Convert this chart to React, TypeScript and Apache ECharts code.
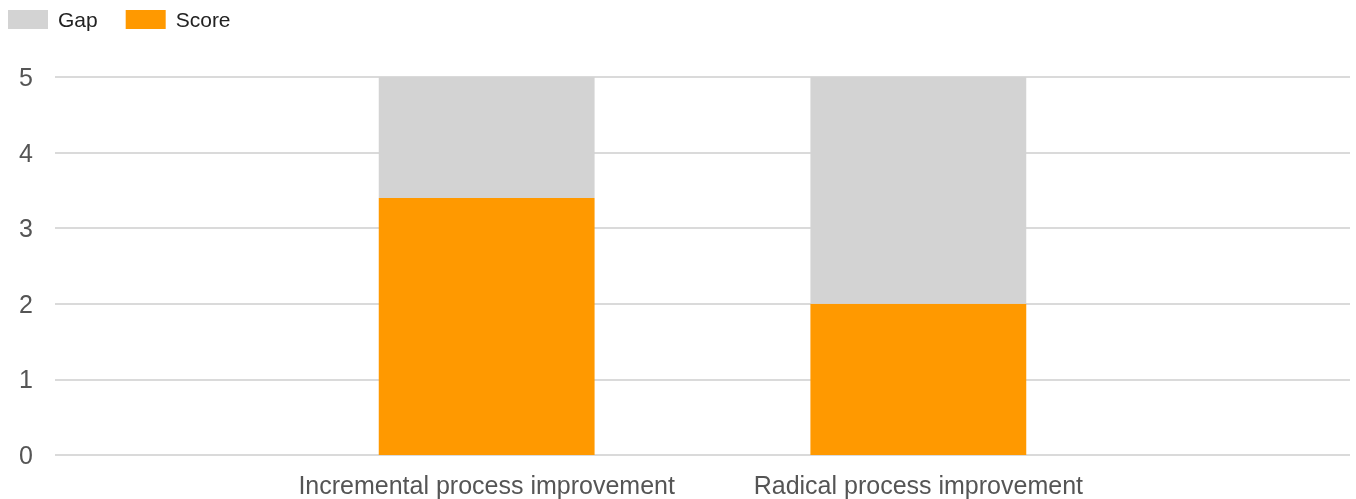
import React, { useEffect, useRef } from "react";
import * as echarts from "echarts";

const categories = ["", "Incremental process improvement", "Radical process improvement", ""];
const scoreValues: (number | null)[] = [null, 3.4, 2, null];
const gapValues: (number | null)[] = [null, 1.6, 3, null];
const yTicks = [0, 1, 2, 3, 4, 5];

export default function App() {
  const ref = useRef<HTMLDivElement>(null);
  useEffect(() => {
    if (!ref.current) return;
    const chart = echarts.init(ref.current, undefined, { renderer: "svg" });
    chart.setOption({
      animation: false,
      textStyle: { fontFamily: "Liberation Sans, Arial, sans-serif" },
      legend: {
        left: 8,
        top: 9,
        padding: 0,
        itemWidth: 40,
        itemHeight: 19,
        itemGap: 28,
        icon: "rect",
        data: ["Gap", "Score"],
        textStyle: { fontSize: 21, color: "#222", padding: [0, 0, 0, 5] },
      },
      grid: { left: 55, right: 6, top: 77, bottom: 44, containLabel: false },
      xAxis: {
        type: "category",
        data: categories,
        boundaryGap: false,
        axisLine: { show: false },
        axisTick: { show: false },
        axisLabel: { fontSize: 25, color: "#555", margin: 17, interval: 0 },
        splitLine: { show: false },
      },
      yAxis: {
        type: "value",
        min: yTicks[0],
        max: yTicks[yTicks.length - 1],
        interval: 1,
        axisLine: { show: false },
        axisTick: { show: false },
        axisLabel: { fontSize: 25, color: "#555", margin: 22 },
        splitLine: { lineStyle: { color: "#dadada", width: 2 } },
      },
      series: [
        {
          name: "Score",
          type: "bar",
          stack: "total",
          data: scoreValues,
          barWidth: "50%",
          itemStyle: { color: "#ff9900" },
        },
        {
          name: "Gap",
          type: "bar",
          stack: "total",
          data: gapValues,
          barWidth: "50%",
          itemStyle: { color: "#d3d3d3" },
        },
      ],
    });
    return () => chart.dispose();
  }, []);
  return (
    <div
      ref={ref}
      style={{ position: "fixed", left: 0, top: 0, width: 1356, height: 499 }}
    />
  );
}
